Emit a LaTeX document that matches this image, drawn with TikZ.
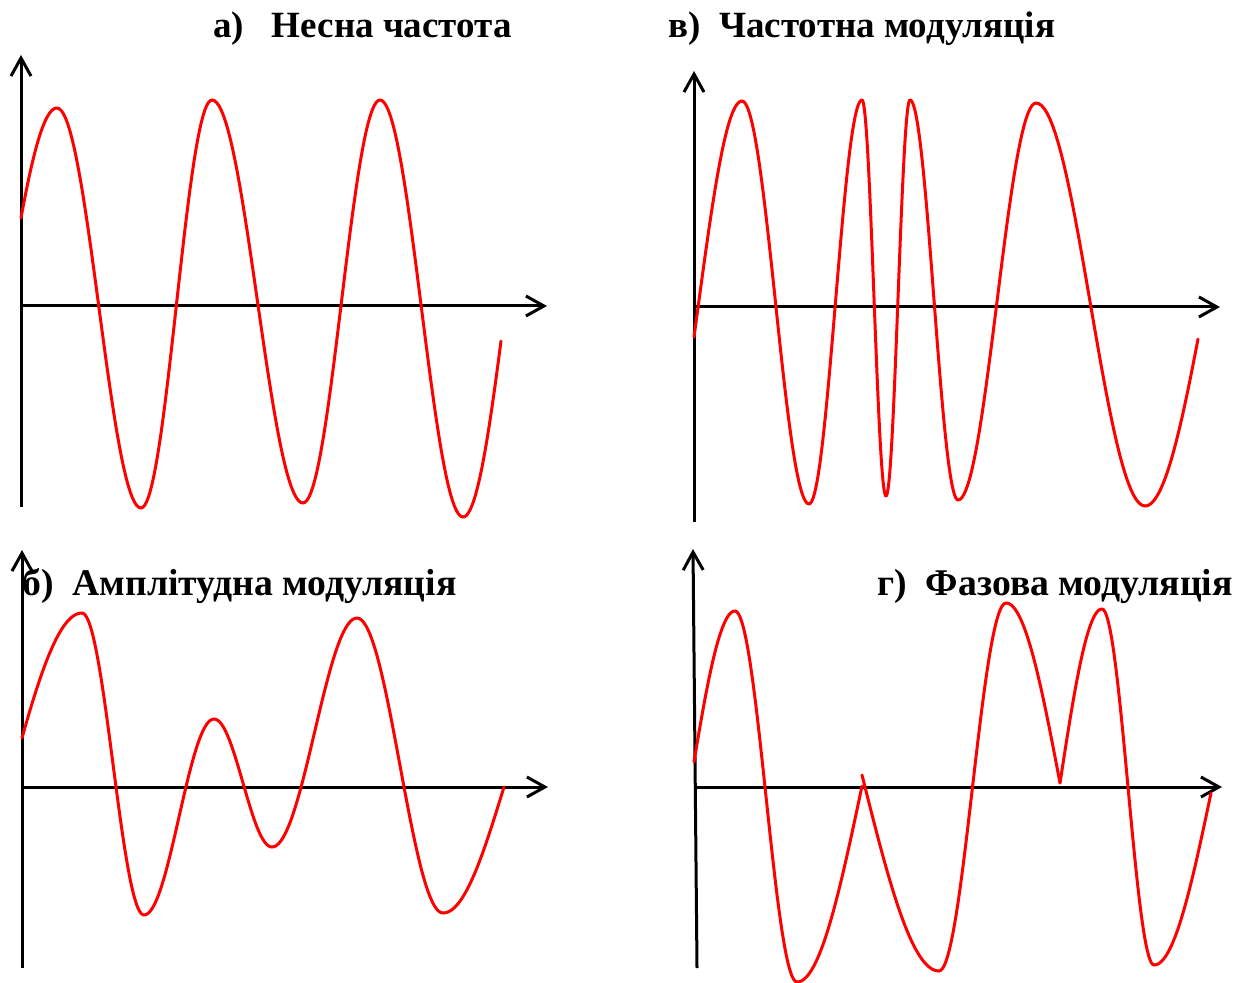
\documentclass[tikz,border=0pt]{standalone}
\usepackage{fontspec}
\setmainfont{Liberation Serif}
\usetikzlibrary{arrows.meta, positioning}

\begin{document}
\begin{tikzpicture}[
  x=0.5pt, y=-0.5pt,
  axis/.style={-{Straight Barb[length=9pt,width=10pt]}, line width=1.5pt, black},
  wave/.style={red, line width=1.5pt, line cap=round, line join=round},
  title/.style={anchor=base west, inner sep=0pt, font=\fontsize{18.5pt}{22pt}\selectfont\bfseries},
  lowtitle/.style={title, font=\fontsize{18.85pt}{22pt}\selectfont\bfseries}
]
\useasboundingbox (0,0) rectangle (1245,983);

% axes
\coordinate (a0) at (21,507);   \coordinate (aup) at (21,55);
\coordinate (ax) at (21,306);   \coordinate (aright) at (547,306);
\coordinate (v0) at (694,522);  \coordinate (vup) at (694,71);
\coordinate (vx) at (694,307);  \coordinate (vright) at (1220,307);
\coordinate (b0) at (22,968);   \coordinate (bup) at (22,550);
\coordinate (bx) at (22,787);   \coordinate (bright) at (548,787);
\coordinate (g0) at (697,968);  \coordinate (gup) at (693,549);
\coordinate (gx) at (695,787);  \coordinate (gright) at (1222,787);

\draw [axis] (a0) -- (aup);
\draw [axis] (ax) -- (aright);
\draw [axis] (v0) -- (vup);
\draw [axis] (vx) -- (vright);
\draw [axis] (b0) -- (bup);
\draw [axis] (bx) -- (bright);
\draw [axis] (g0) -- (gup);
\draw [axis] (gx) -- (gright);

% titles
\node (carrier) [title] at (213,38) {а)~~~Несна частота};
\node (fm) [title] at (668,38) {в)~~Частотна модуляція};
\node (am) [lowtitle] at (22,595) {б)~~Амплітудна модуляція};
\node (pm) [lowtitle] at (877,595) {г)~~Фазова модуляція};

% signals: x1/y1/x2/y2/phase1/phase2
\foreach \xa/\ya/\xb/\yb/\pa/\pb in {
    21/218/57/108/116/180, 57/108/141/508/0/180, 141/508/212/100/0/180,
    212/100/303/503/0/180, 303/503/380/100/0/180, 380/100/463/517/0/180,
    463/517/501/341/0/80,
    694/337/742/101/82/180, 742/101/809/504/0/180, 809/504/862/100/0/180,
    862/100/886/496/0/180, 886/496/910/100/0/180, 910/100/958/500/0/180,
    958/500/1036/103/0/180, 1036/103/1145/506/0/180, 1145/506/1198/339/0/80,
    22/738/82/613/106/180, 82/613/144/915/0/180, 144/915/214/719/0/180,
    214/719/272/847/0/180, 272/847/357/618/0/180, 357/618/443/913/0/180,
    443/913/504/787/0/90,
    694/762/735/611/98/180, 735/611/797/982/0/180, 797/982/862/786/0/90,
    862/775/939/971/90/180, 939/971/1006/603/0/180, 1006/603/1060/783/0/90,
    1060/783/1102/609/90/180, 1102/609/1154/965/0/180, 1154/965/1211/793/0/90}
  \draw [wave] plot [domain=0:1, samples=40, variable=\t]
    ({\xa+(\xb-\xa)*\t}, {\ya+(\yb-\ya)*(cos(\pa)-cos(\pa+(\pb-\pa)*\t))/(cos(\pa)-cos(\pb))});

\end{tikzpicture}
\end{document}
